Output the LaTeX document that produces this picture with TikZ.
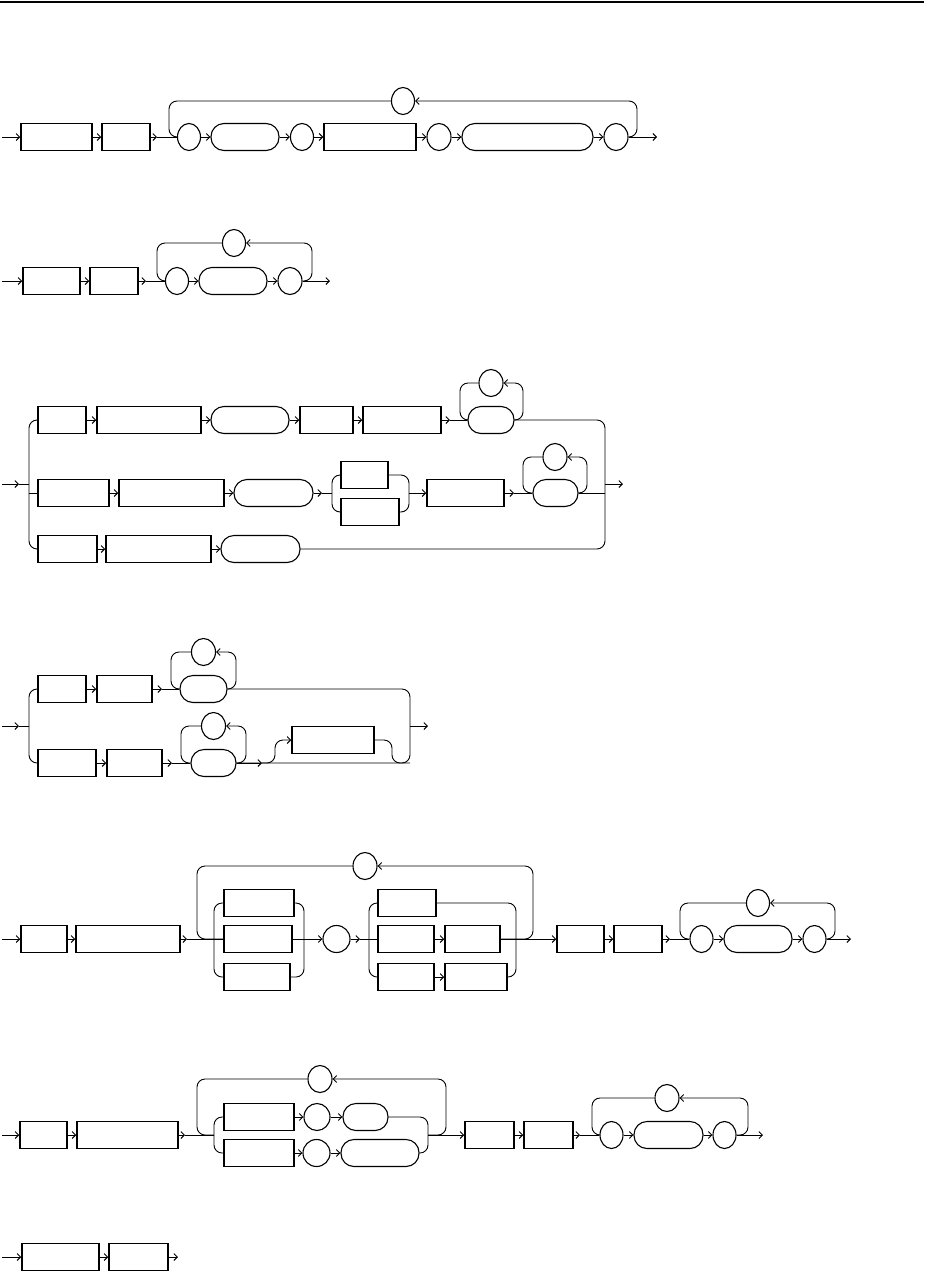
\documentclass[tikz,border=0pt]{standalone}
\usetikzlibrary{shapes.geometric, arrows.meta}

\begin{document}
\begin{tikzpicture}[x=1pt, y=-1pt, line width=0.9pt,
    >={Straight Barb[length=3.5pt,width=7pt]},
    kw/.style={draw, line width=1.5pt, minimum height=27pt, inner sep=0pt},
    tok/.style={draw, ellipse, line width=1.1pt, minimum width=23pt, minimum height=27pt, inner sep=0pt},
    lit/.style={draw, line width=1.1pt, rounded corners=13pt, minimum height=27pt, inner sep=0pt},
    rr/.style={rounded corners=8pt}]
    \useasboundingbox (0,0) rectangle (924,1272);
    \draw[line width=1.5pt] (0,2) -- (924,2);

    % Diagram 1
    \coordinate (s1) at (2,137);
    \node[kw, minimum width=71pt] (b11) at (56.5,137) {};
    \node[kw, minimum width=48pt] (b12) at (126,137) {};
    \coordinate (m1) at (157,137);
    \coordinate (l1) at (169,137);
    \node[tok] (e11) at (189,137) {};
    \node[lit, minimum width=68pt] (p11) at (245,137) {};
    \node[tok] (e12) at (302,137) {};
    \node[kw, minimum width=92pt] (b13) at (370,137) {};
    \node[tok, minimum width=24pt] (e13) at (439,137) {};
    \node[lit, minimum width=131pt] (p12) at (527.5,137) {};
    \node[tok, minimum width=24pt] (e14) at (616,137) {};
    \coordinate (r1) at (637,137);
    \coordinate (x1) at (657,137);
    \node[tok] (t1) at (403,101) {};
    \draw[->] (s1) -- (b11);
    \draw[->] (b11) -- (b12);
    \draw[->] (b12) -- (m1);
    \draw (m1) -- (e11);
    \draw[->] (e11) -- (p11);
    \draw[->] (p11) -- (e12);
    \draw[->] (e12) -- (b13);
    \draw[->] (b13) -- (e13);
    \draw[->] (e13) -- (p12);
    \draw[->] (p12) -- (e14);
    \draw[->] (e14) -- (x1);
    \draw[rr] (t1) -| (l1) -- (e11);
    \draw[rr, ->] (e14) -- (r1) |- (t1);

    % Diagram 2
    \coordinate (s2) at (2,281);
    \node[kw, minimum width=57pt] (b21) at (51.5,281) {};
    \node[kw, minimum width=48pt] (b22) at (114,281) {};
    \coordinate (m2) at (146,281);
    \coordinate (l2) at (157,281);
    \node[tok] (e21) at (177,281) {};
    \node[lit, minimum width=68pt] (p21) at (233,281) {};
    \node[tok, minimum width=24pt] (e22) at (290,281) {};
    \coordinate (r2) at (312,281);
    \coordinate (x2) at (330,281);
    \node[tok] (t2) at (234,243) {};
    \draw[->] (s2) -- (b21);
    \draw[->] (b21) -- (b22);
    \draw[->] (b22) -- (m2);
    \draw (m2) -- (e21);
    \draw[->] (e21) -- (p21);
    \draw[->] (p21) -- (e22);
    \draw[->] (e22) -- (x2);
    \draw[rr] (t2) -| (l2) -- (e21);
    \draw[rr, ->] (e22) -- (r2) |- (t2);

    % Diagram 3
    \coordinate (s3) at (2,484);
    \coordinate (a3) at (19,484);
    \coordinate (j3) at (29,484);
    \coordinate (j3b) at (29,493);
    \coordinate (k3a) at (29,549);
    % first row
    \node[kw, minimum width=48pt] (b31) at (62,420) {};
    \node[kw, minimum width=104pt] (b32) at (149,420) {};
    \node[lit, minimum width=78pt] (p31) at (250,420) {};
    \node[kw, minimum width=53pt] (b33) at (326.5,420) {};
    \node[kw, minimum width=78pt] (b34) at (402,420) {};
    \coordinate (m3a) at (450,420);
    \coordinate (l3a) at (460,420);
    \node[lit, minimum width=46pt] (p32) at (491,420) {};
    \coordinate (r3a) at (523,420);
    \node[tok, minimum width=24pt] (t3a) at (491,383) {};
    % second row
    \node[kw, minimum width=71pt] (b35) at (73.5,493) {};
    \node[kw, minimum width=105pt] (b36) at (171.5,493) {};
    \node[lit, minimum width=79pt] (p33) at (273.5,493) {};
    \coordinate (m3b) at (322,493);
    \coordinate (c3l) at (332,493);
    \coordinate (c3lb) at (332,512);
    \node[kw, minimum width=47pt] (b3c) at (364.5,475) {};
    \node[kw, minimum width=58pt] (b3d) at (370,512) {};
    \coordinate (c3r) at (409,493);
    \coordinate (c3rb) at (409,512);
    \node[kw, minimum width=77pt] (b37) at (465.5,493) {};
    \coordinate (m3c) at (514,493);
    \coordinate (l3b) at (523,493);
    \node[lit, minimum width=45pt] (p34) at (555.5,493) {};
    \coordinate (r3b) at (587,493);
    \node[tok, minimum width=24pt] (t3b) at (555,457) {};
    % third row
    \node[kw, minimum width=59pt] (b38) at (67.5,549) {};
    \node[kw, minimum width=105pt] (b39) at (158.5,549) {};
    \node[lit, minimum width=79pt] (p35) at (260.5,549) {};
    \coordinate (k3b) at (605,549);
    \coordinate (j3r2) at (605,493);
    \coordinate (j3r) at (605,484);
    \coordinate (x3) at (623,484);
    \draw[->] (s3) -- (a3);
    \draw (a3) -- (j3);
    \draw[rr] (b31) -| (k3a) -- (b38);
    \draw (j3b) -- (b35);
    \draw[->] (b31) -- (b32);
    \draw[->] (b32) -- (p31);
    \draw[->] (p31) -- (b33);
    \draw[->] (b33) -- (b34);
    \draw[->] (b34) -- (m3a);
    \draw (m3a) -- (p32);
    \draw[rr] (t3a) -| (l3a) -- (p32);
    \draw[rr, ->] (p32) -- (r3a) |- (t3a);
    \draw[->] (b35) -- (b36);
    \draw[->] (b36) -- (p33);
    \draw[->] (p33) -- (m3b);
    \draw (m3b) -- (c3l);
    \draw[rr] (b3c) -| (c3lb) -- (b3d);
    \draw[rr] (b3c) -| (c3rb) -- (b3d);
    \draw[->] (c3r) -- (b37);
    \draw[->] (b37) -- (m3c);
    \draw (m3c) -- (p34);
    \draw[rr] (t3b) -| (l3b) -- (p34);
    \draw[rr, ->] (p34) -- (r3b) |- (t3b);
    \draw (p34) -- (j3r2);
    \draw[->] (b38) -- (b39);
    \draw[->] (b39) -- (p35);
    \draw[rr] (p32) -| (k3b) -- (p35);
    \draw[->] (j3r) -- (x3);

    % Diagram 4
    \coordinate (s4) at (2,726);
    \coordinate (a4) at (19,726);
    \coordinate (j4) at (29,726);
    \coordinate (k4a) at (29,763);
    \node[kw, minimum width=48pt] (b41) at (62,689) {};
    \node[kw, minimum width=55pt] (b42) at (124.5,689) {};
    \coordinate (m4a) at (162,689);
    \coordinate (l4a) at (171,689);
    \node[lit, minimum width=47pt] (p41) at (203.5,689) {};
    \coordinate (r4a) at (236,689);
    \node[tok, minimum width=24pt] (t4a) at (203.5,652) {};
    \node[kw, minimum width=58pt] (b43) at (67,763) {};
    \node[kw, minimum width=55pt] (b44) at (134.5,763) {};
    \coordinate (m4b) at (172,763);
    \coordinate (l4b) at (181,763);
    \node[lit, minimum width=45pt] (p42) at (213.5,763) {};
    \coordinate (r4b) at (246,763);
    \node[tok, minimum width=24pt] (t4b) at (213.5,726) {};
    \coordinate (m4c) at (262,763);
    \coordinate (o4a) at (275,740);
    \node[kw, minimum width=82pt] (b45) at (333,740) {};
    \coordinate (o4b) at (392,763);
    \coordinate (k4b) at (410,763);
    \coordinate (j4r) at (410,726);
    \coordinate (x4) at (428,726);
    \draw[->] (s4) -- (a4);
    \draw (a4) -- (j4);
    \draw[rr] (b41) -| (k4a) -- (b43);
    \draw[->] (b41) -- (b42);
    \draw[->] (b42) -- (m4a);
    \draw (m4a) -- (p41);
    \draw[rr] (t4a) -| (l4a) -- (p41);
    \draw[rr, ->] (p41) -- (r4a) |- (t4a);
    \draw[->] (b43) -- (b44);
    \draw[->] (b44) -- (m4b);
    \draw (m4b) -- (p42);
    \draw[rr] (t4b) -| (l4b) -- (p42);
    \draw[rr, ->] (p42) -- (r4b) |- (t4b);
    \draw[rr] (p41) -| (k4b) -- (p42);
    \draw[->] (p42) -- (m4c);
    \draw[rr, ->] (m4c) -| (o4a) -- (b45);
    \draw[rr] (b45) -| (o4b) -- (k4b);
    \draw[->] (j4r) -- (x4);

    % Diagram 5
    \coordinate (s5) at (2,939);
    \node[kw, minimum width=46pt] (b51) at (44,939) {};
    \node[kw, minimum width=104pt] (b52) at (128,939) {};
    \coordinate (m5) at (187,939);
    \coordinate (l5) at (197,939);
    \node[tok, minimum width=24pt] (t5) at (365,866) {};
    \node[kw, minimum width=70pt] (c51) at (259,903) {};
    \node[kw, minimum width=68pt] (c52) at (258,939) {};
    \node[kw, minimum width=66pt] (c53) at (257,977) {};
    \coordinate (k5a) at (214,977);
    \coordinate (k5b) at (304,977);
    \node[tok, minimum width=27pt] (e51) at (336.5,939) {};
    \coordinate (m5b) at (360,939);
    \node[kw, minimum width=58pt] (d51) at (407,903) {};
    \node[kw, minimum width=56pt] (d52) at (406,939) {};
    \node[kw, minimum width=55pt] (d53) at (472.5,939) {};
    \node[kw, minimum width=56pt] (d54) at (406,977) {};
    \node[kw, minimum width=62pt] (d55) at (476,977) {};
    \coordinate (k5c) at (369,977);
    \coordinate (k5d) at (516,977);
    \coordinate (r5) at (533,939);
    \node[kw, minimum width=47pt] (b53) at (580.5,939) {};
    \node[kw, minimum width=48pt] (b54) at (638,939) {};
    \coordinate (m5c) at (670,939);
    \coordinate (l5b) at (680,939);
    \node[tok] (e52) at (701.5,939) {};
    \node[lit, minimum width=68pt] (p51) at (758,939) {};
    \node[tok] (e53) at (814.5,939) {};
    \coordinate (r5b) at (835,939);
    \coordinate (x5) at (851,939);
    \node[tok] (t5b) at (758,903) {};
    \draw[->] (s5) -- (b51);
    \draw[->] (b51) -- (b52);
    \draw[->] (b52) -- (m5);
    \draw (m5) -- (c52);
    \draw[rr] (c51) -| (k5a) -- (c53);
    \draw[rr] (c51) -| (k5b) -- (c53);
    \draw[->] (c52) -- (e51);
    \draw[->] (e51) -- (m5b);
    \draw (m5b) -- (d52);
    \draw[rr] (d51) -| (k5c) -- (d54);
    \draw[rr] (d51) -| (k5d) -- (d55);
    \draw[->] (d52) -- (d53);
    \draw[->] (d54) -- (d55);
    \draw[->] (d53) -- (b53);
    \draw[rr] (t5) -| (l5) -- (c52);
    \draw[rr, ->] (d53) -- (r5) |- (t5);
    \draw[->] (b53) -- (b54);
    \draw[->] (b54) -- (m5c);
    \draw (m5c) -- (e52);
    \draw[->] (e52) -- (p51);
    \draw[->] (p51) -- (e53);
    \draw[->] (e53) -- (x5);
    \draw[rr] (t5b) -| (l5b) -- (e52);
    \draw[rr, ->] (e53) -- (r5b) |- (t5b);

    % Diagram 6
    \coordinate (s6) at (2,1135);
    \node[kw, minimum width=47pt] (b61) at (43.5,1135) {};
    \node[kw, minimum width=101pt] (b62) at (127.5,1135) {};
    \coordinate (m6) at (185,1135);
    \coordinate (l6) at (197,1135);
    \coordinate (j6) at (214,1135);
    \node[tok, minimum width=24pt] (t6) at (320,1079) {};
    \node[kw, minimum width=70pt] (f61) at (259,1117) {};
    \node[tok, minimum width=26pt] (f62) at (317,1117) {};
    \node[lit, minimum width=45pt] (f63) at (365.5,1117) {};
    \node[kw, minimum width=70pt] (f64) at (259,1153) {};
    \node[tok, minimum width=27pt] (f65) at (316.5,1153) {};
    \node[lit, minimum width=78pt] (f66) at (380,1153) {};
    \coordinate (k6a) at (214,1153);
    \coordinate (k6b) at (428,1153);
    \coordinate (j6r) at (428,1135);
    \coordinate (r6) at (446,1135);
    \node[kw, minimum width=49pt] (b63) at (489.5,1135) {};
    \node[kw, minimum width=49pt] (b64) at (548.5,1135) {};
    \coordinate (m6b) at (580,1135);
    \coordinate (l6b) at (592,1135);
    \node[tok] (e61) at (611.5,1135) {};
    \node[lit, minimum width=69pt] (p61) at (668.5,1135) {};
    \node[tok] (e62) at (724.5,1135) {};
    \coordinate (r6b) at (748,1135);
    \coordinate (x6) at (763,1135);
    \node[tok, minimum width=24pt] (t6b) at (667,1098) {};
    \draw[->] (s6) -- (b61);
    \draw[->] (b61) -- (b62);
    \draw[->] (b62) -- (m6);
    \draw (m6) -- (j6);
    \draw[rr] (f61) -| (k6a) -- (f64);
    \draw[->] (f61) -- (f62);
    \draw[->] (f62) -- (f63);
    \draw[->] (f64) -- (f65);
    \draw[->] (f65) -- (f66);
    \draw[rr] (f63) -| (k6b) -- (f66);
    \draw[->] (j6r) -- (b63);
    \draw[rr] (t6) -| (l6) -- (j6);
    \draw[rr, ->] (j6r) -- (r6) |- (t6);
    \draw[->] (b63) -- (b64);
    \draw[->] (b64) -- (m6b);
    \draw (m6b) -- (e61);
    \draw[->] (e61) -- (p61);
    \draw[->] (p61) -- (e62);
    \draw[->] (e62) -- (x6);
    \draw[rr] (t6b) -| (l6b) -- (e61);
    \draw[rr, ->] (e62) -- (r6b) |- (t6b);

    % Diagram 7
    \coordinate (s7) at (2,1257);
    \node[kw, minimum width=77pt] (b71) at (60.5,1257) {};
    \node[kw, minimum width=59pt] (b72) at (138.5,1257) {};
    \coordinate (x7) at (178,1257);
    \draw[->] (s7) -- (b71);
    \draw[->] (b71) -- (b72);
    \draw[->] (b72) -- (x7);
\end{tikzpicture}
\end{document}
